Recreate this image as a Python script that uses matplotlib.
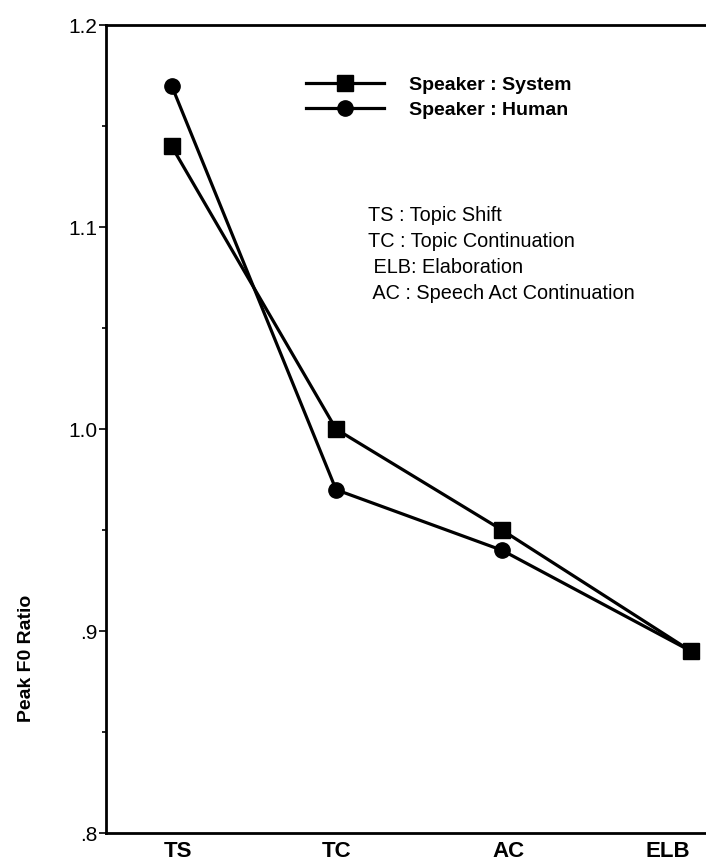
import matplotlib.pyplot as plt
from matplotlib.ticker import MultipleLocator

plt.rcParams['font.family'] = ['Liberation Sans', 'DejaVu Sans']

categories = ['TS', 'TC', 'AC', 'ELB']
x_pos = [1.0, 2.0, 3.01, 4.16]
label_pos = [1.04, 2.0, 3.05, 4.015]
system = [1.14, 1.00, 0.95, 0.89]
human = [1.17, 0.97, 0.94, 0.89]
y_ticks = [0.8, 0.9, 1.0, 1.1, 1.2]
y_labels = ['.8', '.9', '1.0', '1.1', '1.2']
notes = ['TS : Topic Shift', 'TC : Topic Continuation', ' ELB: Elaboration',
         ' AC : Speech Act Continuation']

fig = plt.figure(figsize=(7.06, 8.66), dpi=100)
ax = fig.add_axes([0.150, 0.038, 0.85, 0.933])

# square series drawn on top so it shows at the shared ELB point
ax.plot(x_pos, system, color='black', lw=2.3, marker='s', ms=11,
        label='Speaker : System', zorder=3)
ax.plot(x_pos, human, color='black', lw=2.3, marker='o', ms=11,
        label='Speaker : Human', zorder=2)

ax.set_xlim(0.6, 4.25)
ax.set_ylim(0.8, 1.2)
ax.set_yticks(y_ticks)
ax.set_yticklabels(y_labels, fontsize=15)
ax.yaxis.set_minor_locator(MultipleLocator(0.05))
ax.tick_params(axis='y', which='major', length=5, width=1.2, pad=1)
ax.tick_params(axis='y', which='minor', length=3, width=1.2)
ax.set_xticks(label_pos)
ax.set_xticklabels(categories, fontsize=16, fontweight='bold')
ax.tick_params(axis='x', length=0, pad=6)

ax.spines['right'].set_visible(False)
for s in ['left', 'top', 'bottom']:
    ax.spines[s].set_linewidth(2)

fig.text(0.038, 0.24, 'Peak F0 Ratio', rotation=90, fontsize=14,
         fontweight='bold', ha='center', va='center')

leg = ax.legend(loc='upper left', bbox_to_anchor=(0.305, 0.958), frameon=False,
                handlelength=4.0, handletextpad=1.25, labelspacing=0.37,
                prop={'size': 14, 'weight': 'bold'})

for i, t in enumerate(notes):
    ax.text(0.437, 0.764 - i * 0.032, t, transform=ax.transAxes,
            fontsize=14.3, va='center', ha='left')

fig.savefig('out.png', dpi=100)
